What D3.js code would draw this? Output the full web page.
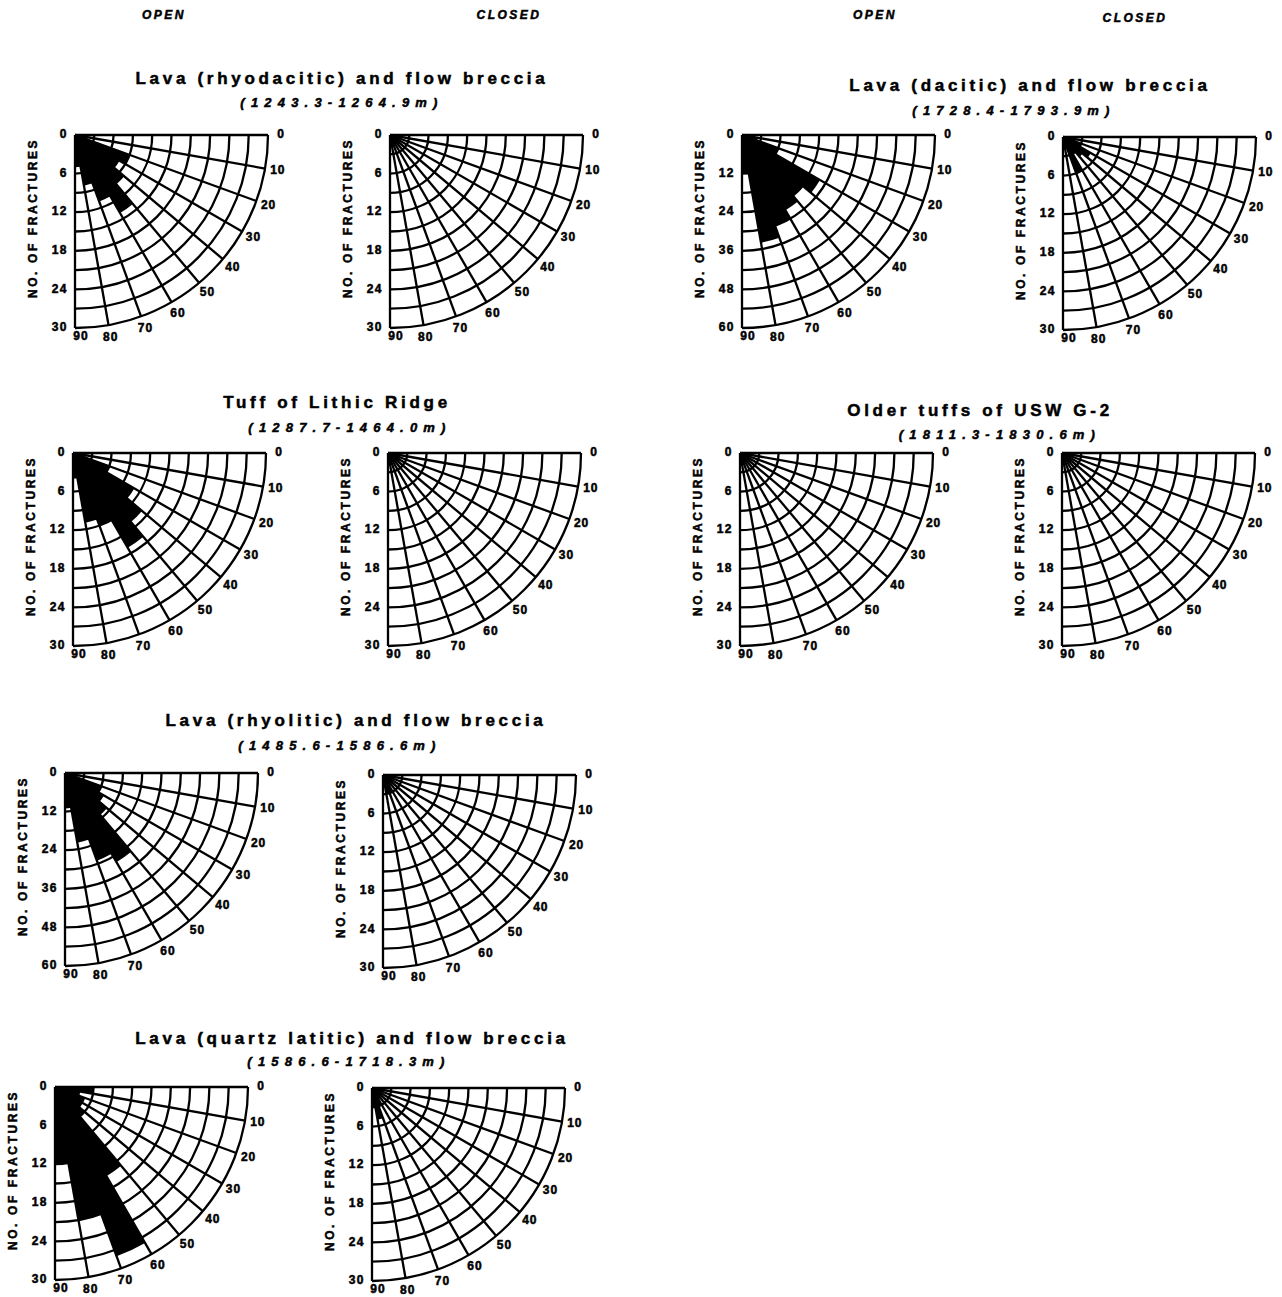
<!DOCTYPE html>
<html>
<head>
<meta charset="utf-8">
<script src="https://cdn.jsdelivr.net/npm/d3@7"></script>
<style>
  body { margin: 0; background: #fff; }
  svg text { font-family: "Liberation Sans", Arial, sans-serif; font-weight: bold; fill: #000; stroke: #000; stroke-width: 0.5px; }
</style>
</head>
<body>
<svg id="chart" width="1282" height="1297"></svg>
<script>
// rock units, in drawing order
const unitNames = [
    "Lava (rhyodacitic) and flow breccia",
    "Tuff of Lithic Ridge",
    "Lava (rhyolitic) and flow breccia",
    "Lava (quartz latitic) and flow breccia",
    "Lava (dacitic) and flow breccia",
    "Older tuffs of USW G-2"
];
const depthRanges = [
    "(1243.3-1264.9m)",
    "(1287.7-1464.0m)",
    "(1485.6-1586.6m)",
    "(1586.6-1718.3m)",
    "(1728.4-1793.9m)",
    "(1811.3-1830.6m)"
];
// outer ring value of each diagram
const openScaleMax = [30, 30, 60, 30, 60, 30];
const closedScaleMax = [30, 30, 30, 30, 30, 30];

// dip bins 0-10, 10-20 ... 80-90 degrees
const dipBins = [0, 10, 20, 30, 40, 50, 60, 70, 80];
const angleTicks = [0, 10, 20, 30, 40, 50, 60, 70, 80, 90];

const openCounts = [
    [2, 2, 9, 8, 10, 14, 11, 8, 5],
    [2, 2, 6, 11, 14, 17, 12, 11, 4],
    [2, 4, 12, 14, 17, 32, 29, 22, 11],
    [6, 4, 5, 5, 6, 16, 28, 21, 12],
    [4, 5, 12, 28, 25, 27, 30, 34, 12],
    [0, 1, 1, 1, 1, 1, 1, 0, 0]
];
const closedCounts = [
    [1, 1, 1, 0, 1, 1, 0, 1, 1],
    [2, 2, 2, 2, 1, 1, 1, 1, 1],
    [1, 1, 1, 1, 1, 2, 3, 3, 2],
    [1, 1, 1, 1, 1, 2, 3, 5, 3],
    [2, 2, 3, 5, 4, 3, 6, 2, 2],
    [1, 1, 1, 1, 2, 1, 1, 1, 1]
];

// page layout
var R = 193;
var layout = [
    {open: [75, 135], closed: [390, 135], title: [342, 80], sub: [342, 104]},
    {open: [73, 453], closed: [388, 453], title: [337, 404], sub: [350, 429]},
    {open: [65, 773], closed: [383, 775], title: [356, 722], sub: [340, 747]},
    {open: [55, 1087], closed: [372, 1088], title: [352, 1040], sub: [349, 1063]},
    {open: [742, 135], closed: [1063, 137], title: [1030, 87], sub: [1014, 112]},
    {open: [740, 453], closed: [1062, 453], title: [980, 412], sub: [1000, 436]}
];

var svg = d3.select("#chart");

// column headers
[[164, 16, "OPEN"], [509, 16, "CLOSED"], [875, 16, "OPEN"], [1135, 19, "CLOSED"]].forEach(h => {
    svg.append("text")
        .attr("x", h[0]).attr("y", h[1])
        .attr("text-anchor", "middle")
        .attr("dominant-baseline", "middle")
        .style("font-size", "12px")
        .style("font-style", "italic")
        .style("letter-spacing", "2.5px")
        .text(h[2]);
});

var rad = d => d * Math.PI / 180;

/**
 * One quarter rose: origin top-left, 0 deg along the top, 90 deg down the left edge
 */
function drawRose(x0, y0, counts, maxVal) {
    var g = svg.append("g").attr("transform", `translate(${x0},${y0})`);
    var r = d3.scaleLinear().domain([0, maxVal]).range([0, R]);

    // wedges
    var wedge = d3.arc()
        .innerRadius(0)
        .outerRadius(d => r(d.n))
        .startAngle(d => Math.PI / 2 + rad(d.a))
        .endAngle(d => Math.PI / 2 + rad(d.a + 10));
    g.selectAll(".wedge")
        .data(dipBins.map((a, i) => ({a: a, n: counts[i]})))
        .enter().append("path")
        .attr("d", wedge)
        .attr("fill", "#000");

    // rings every tenth of the scale
    var rings = d3.range(1, 11).map(i => i * maxVal / 10);
    g.selectAll(".ring")
        .data(rings)
        .enter().append("path")
        .attr("d", v => `M${r(v)},0 A${r(v)},${r(v)} 0 0 1 0,${r(v)}`)
        .attr("fill", "none")
        .attr("stroke", "#000")
        .attr("stroke-width", 2.3);

    // spokes
    g.selectAll(".spoke")
        .data(angleTicks)
        .enter().append("line")
        .attr("x1", 0).attr("y1", 0)
        .attr("x2", a => R * Math.cos(rad(a)))
        .attr("y2", a => R * Math.sin(rad(a)))
        .attr("stroke", "#000")
        .attr("stroke-width", 2.3);

    // angle labels round the outer arc (the 90 sits a little tighter under the edge)
    var labelR = a => a === 90 ? R + 9 : R + 13;
    g.selectAll(".atick")
        .data(angleTicks)
        .enter().append("text")
        .attr("x", a => labelR(a) * Math.cos(rad(a)) + (a === 90 ? 6 : 0))
        .attr("y", a => labelR(a) * Math.sin(rad(a)))
        .attr("text-anchor", "middle")
        .attr("dominant-baseline", "middle")
        .style("font-size", "12px")
        .style("letter-spacing", "1px")
        .text(a => a);

    // count labels down the left edge
    var countTicks = d3.range(0, 6).map(i => i * maxVal / 5);
    g.selectAll(".rtick")
        .data(countTicks)
        .enter().append("text")
        .attr("x", -7)
        .attr("y", v => r(v))
        .attr("text-anchor", "end")
        .attr("dominant-baseline", "middle")
        .style("font-size", "12px")
        .style("letter-spacing", "1.5px")
        .text(v => v);

    g.append("text")
        .attr("transform", `translate(-41,${R * 0.43}) rotate(-90)`)
        .attr("text-anchor", "middle")
        .attr("dominant-baseline", "middle")
        .style("font-size", "12px")
        .style("letter-spacing", "2.6px")
        .text("NO. OF FRACTURES");
}

unitNames.forEach((name, i) => {
    var L = layout[i];
    svg.append("text")
        .attr("x", L.title[0]).attr("y", L.title[1])
        .attr("text-anchor", "middle")
        .attr("dominant-baseline", "middle")
        .style("font-size", "17px")
        .style("letter-spacing", "3.7px")
        .text(name);
    svg.append("text")
        .attr("x", L.sub[0]).attr("y", L.sub[1])
        .attr("text-anchor", "middle")
        .attr("dominant-baseline", "middle")
        .style("font-size", "13px")
        .style("font-style", "italic")
        .style("letter-spacing", "6.2px")
        .text(depthRanges[i]);

    drawRose(L.open[0], L.open[1], openCounts[i], openScaleMax[i]);
    drawRose(L.closed[0], L.closed[1], closedCounts[i], closedScaleMax[i]);
});
</script>
</body>
</html>
